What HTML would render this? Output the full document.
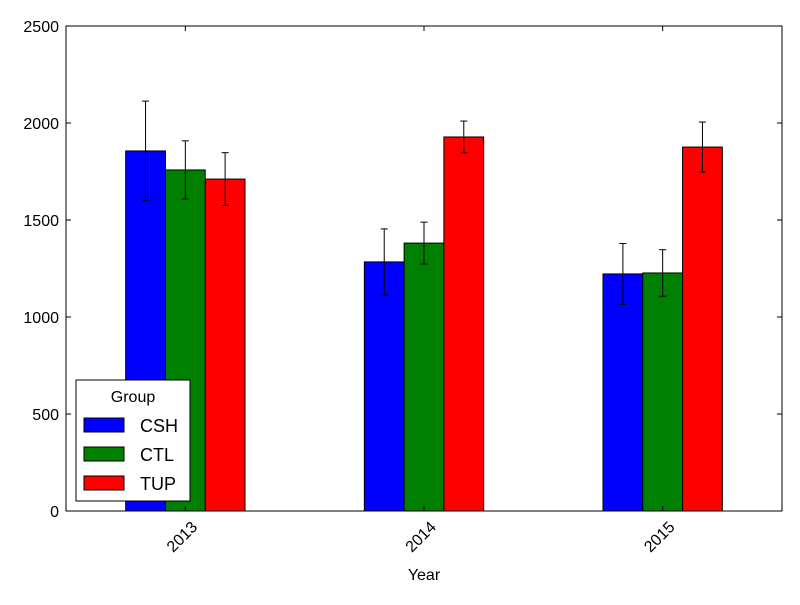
<!DOCTYPE html>
<html><head><meta charset="utf-8"><style>
body{margin:0;background:#fff}
svg text{font-family:"Liberation Sans","DejaVu Sans",sans-serif}
</style></head><body>
<svg id="chart" width="800" height="600" xmlns="http://www.w3.org/2000/svg">
<rect x="0" y="0" width="800" height="600" fill="#fff"/>
<g id="marks"></g>
<rect x="66" y="26" width="716" height="485" fill="none" stroke="#000" stroke-width="1"/>
<g id="axes"></g>
<text x="424" y="580" font-size="16" text-anchor="middle">Year</text>
<g>
<rect x="76" y="380" width="114" height="121" fill="#fff" stroke="#000"/>
<text x="133" y="402" font-size="16" text-anchor="middle">Group</text>
<g id="legend-entries"></g>
</g>
</svg>
<script>
const categories=["2013","2014","2015"];
const groups=["CSH","CTL","TUP"];
const colors=["#0000ff","#008000","#ff0000"];
const csh=[1856,1284,1222];
const ctl=[1758,1381,1227];
const tup=[1711,1928,1876];
const cshErr=[257,170,157];
const ctlErr=[150,108,120];
const tupErr=[136,82,129];
const yTicks=[0,500,1000,1500,2000,2500];
const series=[csh,ctl,tup], errs=[cshErr,ctlErr,tupErr];
const L=66,R=782,T=26,B=511,ymax=2500;
const xs=v=>L+(v+0.5)*(R-L)/categories.length;
const ys=v=>B-v/ymax*(B-T);
const NS="http://www.w3.org/2000/svg";
function mk(t,a,p){const e=document.createElementNS(NS,t);for(const k in a)e.setAttribute(k,a[k]);p.appendChild(e);return e;}
const marks=document.getElementById('marks'),axes=document.getElementById('axes');
const bw=1/6;
categories.forEach((c,i)=>{
  series.forEach((s,j)=>{
    const x0=xs(i-0.25+j*bw),x1=xs(i-0.25+(j+1)*bw);
    const r=mk('rect',{x:x0,y:ys(s[i]),width:x1-x0,height:B-ys(s[i]),fill:colors[j],stroke:'#000','stroke-width':1},marks);
    
    
    const cx=(x0+x1)/2,hi=ys(s[i]+errs[j][i]),lo=ys(s[i]-errs[j][i]);
    const g=mk('g',{stroke:'#000','stroke-width':1},marks);
    
    
    mk('line',{x1:cx,x2:cx,y1:hi,y2:lo},g);
    mk('line',{x1:cx-3.5,x2:cx+3.5,y1:hi,y2:hi},g);
    mk('line',{x1:cx-3.5,x2:cx+3.5,y1:lo,y2:lo},g);
  });
  const x=xs(i);
  mk('line',{x1:x,x2:x,y1:B,y2:B-5,stroke:'#000'},axes);
  mk('line',{x1:x,x2:x,y1:T,y2:T+5,stroke:'#000'},axes);
  const t=mk('text',{x:x+13,y:B+17,'font-size':16,'text-anchor':'end',transform:`rotate(-45 ${x+13} ${B+17})`},axes);
  
  
  t.textContent=c;
});
yTicks.forEach(v=>{
  const y=ys(v);
  mk('line',{x1:L,x2:L+5,y1:y,y2:y,stroke:'#000'},axes);
  mk('line',{x1:R,x2:R-5,y1:y,y2:y,stroke:'#000'},axes);
  const t=mk('text',{x:L-7,y:y+6,'font-size':16,'text-anchor':'end'},axes);
  
  
  t.textContent=v;
});
const le=document.getElementById('legend-entries');
groups.forEach((g,j)=>{
  const y=425+j*29;
  const r=mk('rect',{x:84,y:y-7,width:40,height:14,fill:colors[j],stroke:'#000'},le);
  
  
  const t=mk('text',{x:140,y:y+7,'font-size':18},le);
  
  
  t.textContent=g;
});
</script>
</body></html>
